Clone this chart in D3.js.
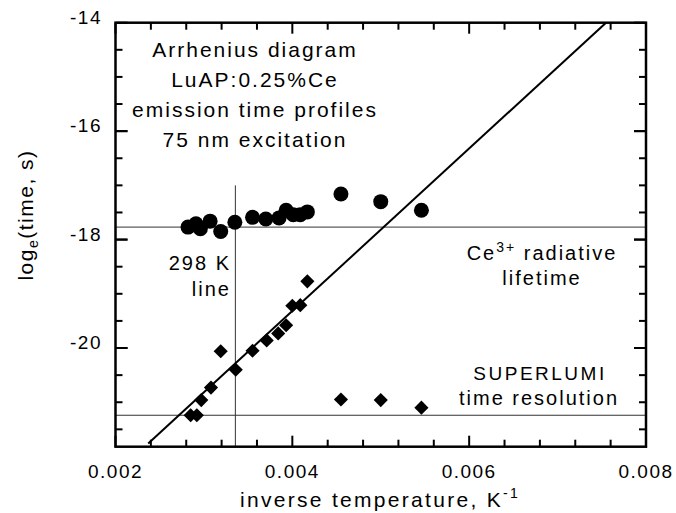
<!DOCTYPE html>
<html>
<head>
<meta charset="utf-8">
<script src="https://cdn.jsdelivr.net/npm/d3@7"></script>
<style>
  html, body { margin: 0; padding: 0; background: #fff; }
  svg { display: block; font-family: "Liberation Sans", Arial, Helvetica, sans-serif; }
</style>
</head>
<body>
<div id="chart"></div>
<script>
// Emission decay times (circles) and rise times (diamonds), vs 1/T
const circleX = [0.00282, 0.00291, 0.00296, 0.00307, 0.00319, 0.00335, 0.00355, 0.00370,
                 0.00385, 0.00393, 0.00401, 0.00409, 0.00417, 0.00455, 0.00500, 0.00546]
const circleY = [-17.77, -17.71, -17.80, -17.66, -17.85, -17.68, -17.59, -17.62,
                 -17.60, -17.46, -17.54, -17.54, -17.49, -17.16, -17.30, -17.46]

const diamondX = [0.00285, 0.00292, 0.00297, 0.00308, 0.00319, 0.00336, 0.00355, 0.00371,
                  0.00384, 0.00393, 0.00400, 0.00409, 0.00417, 0.00455, 0.00500, 0.00546]
const diamondY = [-21.24, -21.24, -20.96, -20.73, -20.06, -20.40, -20.05, -19.86,
                  -19.73, -19.58, -19.22, -19.21, -18.77, -20.95, -20.96, -21.10]

// Arrhenius fit through the diamonds
const fitX = [0.00237, 0.007548]
const fitY = [-21.76, -14.0]

// Reference lines
const radiativeLifetime = -17.77
const superlumiLimit = -21.24
const roomTempX = 1 / 298
const roomTempTop = -17

const xDomain = [0.002, 0.008]
const yDomain = [-21.82, -14]
const xMajor = [0.002, 0.004, 0.006, 0.008]
const xTickLabels = ["0.002", "0.004", "0.006", "0.008"]
const yMajor = [-20, -18, -16, -14]
const yTickLabels = ["-20", "-18", "-16", "-14"]

const titleLines = ["Arrhenius diagram", "LuAP:0.25%Ce", "emission time profiles", "75 nm excitation"]

const width = 676
const height = 513
const pLeft = 115.5, pRight = 646, pTop = 22.7, pBottom = 446.7

const svg = d3.select("#chart")
  .append("svg")
  .attr("width", width)
  .attr("height", height)

const x = d3.scaleLinear().domain(xDomain).range([pLeft, pRight])
const y = d3.scaleLinear().domain(yDomain).range([pBottom, pTop])

// minor ticks every 0.0004 and 0.5
const xMinor = d3.range(0, 16).map(i => xDomain[0] + i * 0.0004)
const yMinor = d3.range(-21.5, -14, 0.5)

svg.append("clipPath").attr("id", "plot")
  .append("rect")
  .attr("x", pLeft).attr("y", pTop)
  .attr("width", pRight - pLeft).attr("height", pBottom - pTop)

const g = svg.append("g").attr("clip-path", "url(#plot)")

// Reference lines
g.append("line")
  .attr("x1", pLeft).attr("x2", pRight)
  .attr("y1", y(radiativeLifetime)).attr("y2", y(radiativeLifetime))
  .attr("stroke", "#333").attr("stroke-width", 1)
g.append("line")
  .attr("x1", pLeft).attr("x2", pRight)
  .attr("y1", y(superlumiLimit)).attr("y2", y(superlumiLimit))
  .attr("stroke", "#333").attr("stroke-width", 1)
g.append("line")
  .attr("x1", x(roomTempX)).attr("x2", x(roomTempX))
  .attr("y1", y(roomTempTop)).attr("y2", pBottom)
  .attr("stroke", "#333").attr("stroke-width", 1)

// Fit line
g.append("path")
  .datum(fitX.map((v, i) => [v, fitY[i]]))
  .attr("d", d3.line().x(d => x(d[0])).y(d => y(d[1])))
  .attr("fill", "none")
  .attr("stroke", "#000")
  .attr("stroke-width", 2)

// Points
g.append("g")
  .selectAll("circle")
  .data(circleX.map((v, i) => [v, circleY[i]]))
  .join("circle")
  .attr("cx", d => x(d[0]))
  .attr("cy", d => y(d[1]))
  .attr("r", 7.5)
  .attr("fill", "#000")

const diamond = d3.symbol().type(d3.symbolSquare).size(100)
g.append("g")
  .selectAll("path")
  .data(diamondX.map((v, i) => [v, diamondY[i]]))
  .join("path")
  .attr("d", diamond)
  .attr("transform", d => `translate(${x(d[0])},${y(d[1])}) rotate(45)`)
  .attr("fill", "#000")

// Frame and ticks (pointing inward on all sides)
const axes = svg.append("g").attr("stroke", "#000").attr("stroke-width", 2)
const isMajor = (v, list) => list.some(m => Math.abs(m - v) < 1e-9)

xMinor.forEach(v => {
  const len = isMajor(v, xMajor) ? 11 : 7
  axes.append("line").attr("x1", x(v)).attr("x2", x(v)).attr("y1", pBottom).attr("y2", pBottom - len)
  axes.append("line").attr("x1", x(v)).attr("x2", x(v)).attr("y1", pTop).attr("y2", pTop + len)
})
yMinor.concat(yMajor).forEach(v => {
  const len = isMajor(v, yMajor) ? 12 : 7
  axes.append("line").attr("x1", pLeft).attr("x2", pLeft + len).attr("y1", y(v)).attr("y2", y(v))
  axes.append("line").attr("x1", pRight).attr("x2", pRight - len).attr("y1", y(v)).attr("y2", y(v))
})
svg.append("rect")
  .attr("x", pLeft).attr("y", pTop)
  .attr("width", pRight - pLeft).attr("height", pBottom - pTop)
  .attr("fill", "none").attr("stroke", "#000").attr("stroke-width", 2.5)

// Tick labels
svg.append("g").selectAll("text")
  .data(xMajor)
  .join("text")
  .attr("x", d => x(d))
  .attr("y", 478)
  .attr("text-anchor", "middle")
  .attr("font-size", 19)
  .attr("letter-spacing", 1.5)
  .text((d, i) => xTickLabels[i])

svg.append("g").selectAll("text")
  .data(yMajor)
  .join("text")
  .attr("x", 102)
  .attr("y", d => y(d) + 1)
  .attr("text-anchor", "end")
  .attr("font-size", 19)
  .attr("letter-spacing", 1.5)
  .text((d, i) => yTickLabels[i])

// Axis titles
const xt = svg.append("text")
  .attr("x", 380).attr("y", 507)
  .attr("text-anchor", "middle")
  .attr("font-size", 21)
  .attr("letter-spacing", 2.3)
xt.append("tspan").text("inverse temperature, K")
xt.append("tspan").attr("font-size", 14).attr("dy", -9).text("-1")

const yt = svg.append("text")
  .attr("transform", "translate(33,215) rotate(-90)")
  .attr("text-anchor", "middle")
  .attr("font-size", 21)
  .attr("letter-spacing", 1.5)
yt.append("tspan").text("log")
yt.append("tspan").attr("font-size", 14).attr("dy", 5).text("e")
yt.append("tspan").attr("dy", -5).text("(time, s)")

// Annotations
svg.append("g").selectAll("text")
  .data(titleLines)
  .join("text")
  .attr("x", 255)
  .attr("y", (d, i) => 57 + i * 30)
  .attr("text-anchor", "middle")
  .attr("font-size", 21)
  .attr("letter-spacing", 2)
  .text(d => d)

svg.append("text").attr("x", 231).attr("y", 270)
  .attr("text-anchor", "end").attr("font-size", 20).attr("letter-spacing", 2)
  .text("298 K")
svg.append("text").attr("x", 231).attr("y", 296)
  .attr("text-anchor", "end").attr("font-size", 20).attr("letter-spacing", 2)
  .text("line")

const ce = svg.append("text").attr("x", 542).attr("y", 260)
  .attr("text-anchor", "middle").attr("font-size", 20).attr("letter-spacing", 2)
ce.append("tspan").text("Ce")
ce.append("tspan").attr("font-size", 14).attr("dy", -8).text("3+")
ce.append("tspan").attr("dy", 8).text(" radiative")
svg.append("text").attr("x", 542).attr("y", 285)
  .attr("text-anchor", "middle").attr("font-size", 20).attr("letter-spacing", 2)
  .text("lifetime")

svg.append("text").attr("x", 540).attr("y", 380)
  .attr("text-anchor", "middle").attr("font-size", 19).attr("letter-spacing", 2.5)
  .text("SUPERLUMI")
svg.append("text").attr("x", 539).attr("y", 405)
  .attr("text-anchor", "middle").attr("font-size", 20).attr("letter-spacing", 2)
  .text("time resolution")
</script>
</body>
</html>
